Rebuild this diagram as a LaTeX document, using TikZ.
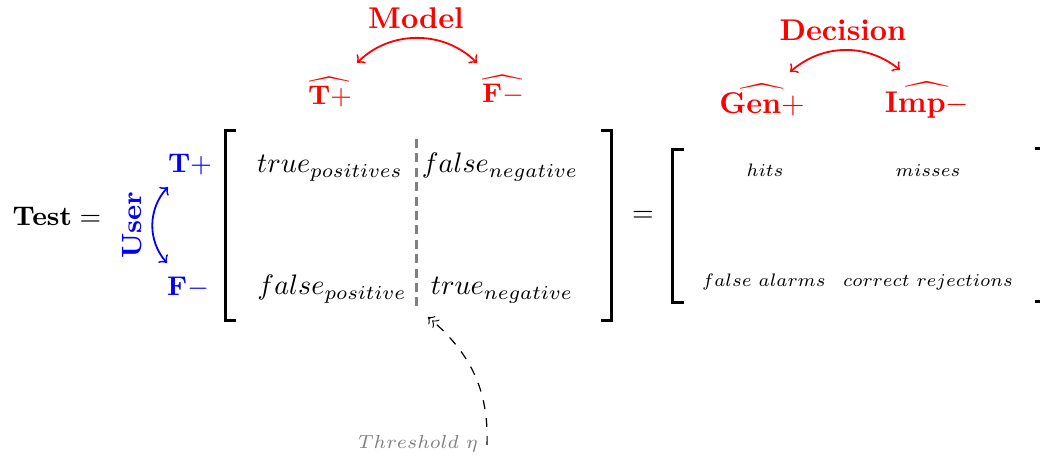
\documentclass[tikz,border=0pt]{standalone}
\usepackage{amsmath}
\usepackage{graphicx}
\newcommand{\cellbox}[1]{\scalebox{0.94}{$#1$}}
\newcommand{\smallbox}[1]{\scalebox{0.86}{\scriptsize$#1$}}
\begin{document}
\begin{tikzpicture}[x=0.3333pt,y=0.3333pt,
  lbl/.style={inner sep=0pt, outer sep=0pt},
  redlbl/.style={lbl, text=red},
  bluelbl/.style={lbl, text=blue, font=\fontsize{9.5}{11}\selectfont},
  cell/.style={lbl, anchor=base},
  smallcell/.style={lbl, anchor=base},
  brk/.style={line width=1pt, line cap=rect},
  bow/.style={<->, line width=0.6pt},
]
\useasboundingbox (0,0) rectangle (1040,460);

% ---- Model ----
\node[redlbl] (model) at (416,442) {\textbf{Model}};
\coordinate (ml) at (357,397);
\coordinate (mr) at (477,397);
\draw[bow, red] (ml) to[bend left=45] (mr);
\node[redlbl, font=\fontsize{9.5}{11}\selectfont] (tphat) at (330,368) {$\widehat{\mathbf{T}+}$};
\node[redlbl, font=\fontsize{9.5}{11}\selectfont] (fnhat) at (503,370) {$\widehat{\mathbf{F}-}$};

% ---- Decision ----
\node[redlbl] (decision) at (843,430) {\textbf{Decision}};
\coordinate (dl) at (790,388);
\coordinate (dr) at (900,390);
\draw[bow, red] (dl) to[bend left=40] (dr);
\node[redlbl] (genhat) at (762,360) {$\widehat{\mathbf{Gen}+}$};
\node[redlbl] (imphat) at (927,360) {$\widehat{\mathbf{Imp}-}$};

% ---- Test = ----
\node[lbl, font=\fontsize{8.7}{10}\selectfont] (test) at (57,244) {$\mathbf{Test} =$};

% ---- User ----
\node[lbl, text=blue, rotate=90, font=\fontsize{9.3}{11}\selectfont] (user) at (132,235) {\textbf{User}};
\node[bluelbl] (tpu) at (190,295) {$\mathbf{T}+$};
\node[bluelbl] (fnu) at (188,173) {$\mathbf{F}-$};
\coordinate (ub) at (167,197);
\coordinate (ut) at (168,273);
\draw[bow, blue] (ub) to[bend left=42] (ut);

% ---- first matrix ----
\coordinate (la) at (234,329);
\coordinate (lb) at (225,329);
\coordinate (lc) at (225,139);
\coordinate (ld) at (234,139);
\draw[brk] (la) -- (lb) -- (lc) -- (ld);
\coordinate (ra) at (602,329);
\coordinate (rb) at (611,329);
\coordinate (rc) at (611,139);
\coordinate (rd) at (602,139);
\draw[brk] (ra) -- (rb) -- (rc) -- (rd);
\coordinate (sept) at (416.5,321);
\coordinate (sepb) at (416.5,152);
\draw[gray, line width=0.75pt, dash pattern=on 3pt off 1.8pt] (sept) -- (sepb);

\node[cell] (tp) at (330,287) {\cellbox{true_{positives}}};
\node[cell] (fn) at (500,287) {\cellbox{false_{negative}}};
\node[cell] (fp) at (332,165) {\cellbox{false_{positive}}};
\node[cell] (tn) at (502,165) {\cellbox{true_{negative}}};

% ---- equals ----
\node[lbl, font=\fontsize{8.7}{10}\selectfont] (eq) at (643,244) {$=$};

% ---- second matrix ----
\coordinate (sla) at (682,310);
\coordinate (slb) at (672,310);
\coordinate (slc) at (672,157);
\coordinate (sld) at (682,157);
\draw[brk] (sla) -- (slb) -- (slc) -- (sld);
\coordinate (sra) at (1036,311);
\coordinate (srb) at (1046,311);
\coordinate (src) at (1046,158);
\coordinate (srd) at (1036,158);
\draw[brk] (sra) -- (srb) -- (src) -- (srd);

\node[smallcell] (hits) at (765,283) {\smallbox{hits}};
\node[smallcell] (misses) at (928,283) {\smallbox{misses}};
\node[smallcell] (fa) at (764,173) {\smallbox{false\ alarms}};
\node[smallcell] (cr) at (928,173) {\smallbox{correct\ rejections}};

% ---- threshold ----
\node[lbl, text=gray] (thr) at (418,16) {\scalebox{0.9}{\scriptsize$Threshold\ \eta$}};
\coordinate (ts) at (487,15);
\coordinate (te) at (428,143);
\draw[dashed, ->>] (ts) to[out=88, in=-40] (te);
\end{tikzpicture}
\end{document}
